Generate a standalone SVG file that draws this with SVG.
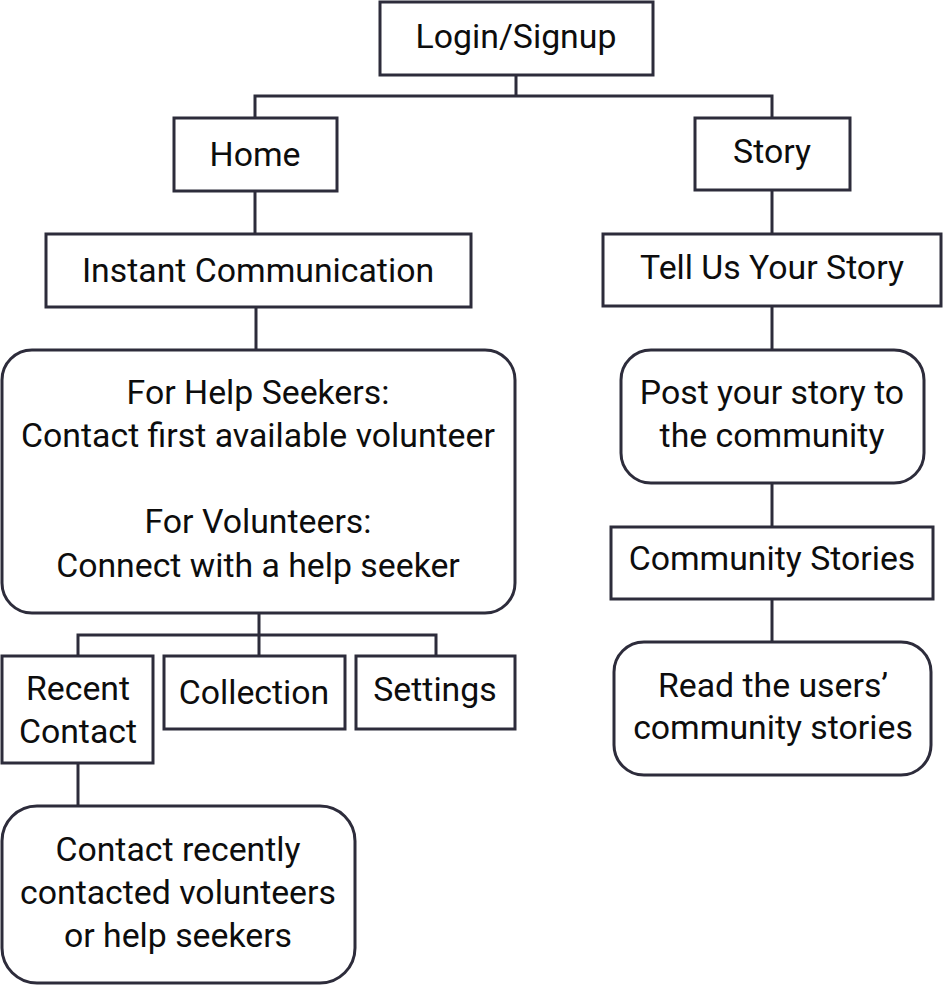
<svg xmlns="http://www.w3.org/2000/svg" width="944" height="986" viewBox="0 0 944 986">
<style>
.box{fill:#ffffff;stroke:#2d2c3b;stroke-width:3}
.ln{fill:none;stroke:#2d2c3b;stroke-width:3}
text{font-family:Roboto,"Noto Sans",sans-serif;font-size:33.8px;fill:#0d0d0d;text-anchor:middle}
</style>
<rect width="944" height="986" fill="#ffffff"/>
<g id="connectors">
<path class="ln" d="M516,75 V96 M255,118 V96 H772 V118"/>
<path class="ln" d="M255,191 V234"/>
<path class="ln" d="M772,190 V234"/>
<path class="ln" d="M256,307 V350"/>
<path class="ln" d="M772,306 V350"/>
<path class="ln" d="M772,483 V527"/>
<path class="ln" d="M772,599 V642"/>
<path class="ln" d="M259,613 V656 M78,656 V635 H436 V656"/>
<path class="ln" d="M78,763 V806"/>
</g>
<g id="login"><rect class="box" x="380" y="2" width="273" height="73"/><text x="516" y="48">Login/Signup</text></g>
<g id="home"><rect class="box" x="174" y="118" width="163" height="73"/><text x="255" y="166">Home</text></g>
<g id="story"><rect class="box" x="695" y="118" width="155" height="72"/><text x="772" y="163">Story</text></g>
<g id="instant"><rect class="box" x="46" y="234" width="425" height="73"/><text x="258" y="282">Instant Communication</text></g>
<g id="tell"><rect class="box" x="603" y="234" width="338" height="72"/><text x="772" y="279">Tell Us Your Story</text></g>
<g id="helpers"><rect class="box" x="2" y="350" width="513" height="263" rx="30"/>
<text x="258" y="404">For Help Seekers:</text>
<text x="258" y="447">Contact first available volunteer</text>
<text x="258" y="533">For Volunteers:</text>
<text x="258" y="577">Connect with a help seeker</text></g>
<g id="post"><rect class="box" x="621" y="350" width="303" height="133" rx="30"/>
<text x="772" y="404">Post your story to</text>
<text x="772" y="447">the community</text></g>
<g id="community"><rect class="box" x="611" y="527" width="322" height="72"/><text x="772" y="570">Community Stories</text></g>
<g id="read"><rect class="box" x="614" y="642" width="317" height="133" rx="30"/>
<text x="773" y="697">Read the users’</text>
<text x="773" y="739">community stories</text></g>
<g id="recent"><rect class="box" x="2" y="656" width="151" height="107"/>
<text x="78" y="700">Recent</text>
<text x="78" y="743">Contact</text></g>
<g id="collection"><rect class="box" x="164" y="656" width="181" height="73"/><text x="254" y="704">Collection</text></g>
<g id="settings"><rect class="box" x="356" y="656" width="159" height="73"/><text x="435" y="701">Settings</text></g>
<g id="contactrecent"><rect class="box" x="2" y="806" width="353" height="177" rx="35"/>
<text x="178" y="861">Contact recently</text>
<text x="178" y="904">contacted volunteers</text>
<text x="178" y="947">or help seekers</text></g>
</svg>
